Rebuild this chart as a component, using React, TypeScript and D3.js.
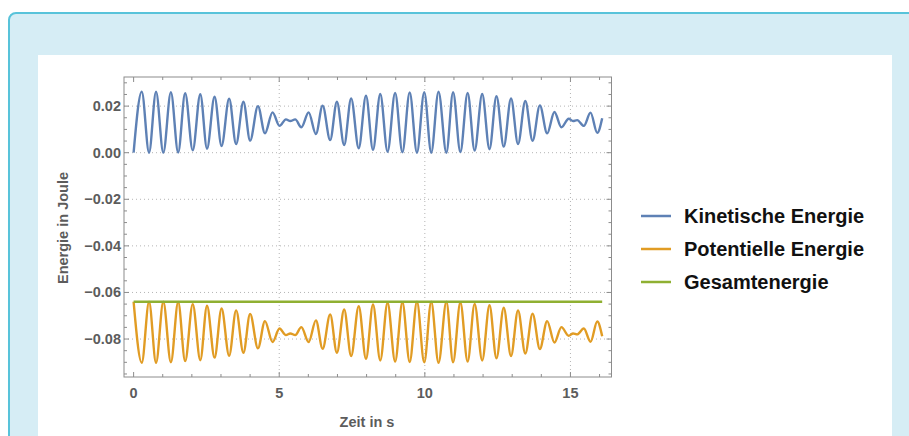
import * as d3 from "d3";

// extrema of the curves (time in s)
const times = [
  0.0, 0.28, 0.53, 0.77, 1.02, 1.28, 1.53, 1.77, 2.03, 2.29, 2.52, 2.78, 3.02, 3.28, 3.52, 3.77,
  4.0, 4.27, 4.51, 4.77, 5.01, 5.23, 5.38, 5.55, 5.76, 6.01, 6.26, 6.49, 6.75, 6.98, 7.23, 7.47,
  7.73, 7.98, 8.22, 8.47, 8.72, 8.98, 9.23, 9.48, 9.73, 9.98, 10.22, 10.47, 10.74, 10.97, 11.22,
  11.47, 11.71, 11.97, 12.22, 12.46, 12.71, 12.96, 13.2, 13.45, 13.7, 13.95, 14.2, 14.45, 14.69,
  14.94, 15.09, 15.23, 15.46, 15.69, 15.92, 16.09,
];

const kinetic = [
  0.0, 0.0262, 0.0, 0.0262, 0.0, 0.026, 0.0001, 0.0255, 0.001, 0.0251, 0.0017, 0.024, 0.0029,
  0.0232, 0.0037, 0.0219, 0.0052, 0.02, 0.0083, 0.0173, 0.0115, 0.0143, 0.0136, 0.0143, 0.0109,
  0.0173, 0.008, 0.0202, 0.0054, 0.0219, 0.0033, 0.0233, 0.0019, 0.0245, 0.0012, 0.0252, 0.0004,
  0.0257, 0.0002, 0.0259, 0.0, 0.026, 0.0, 0.0262, 0.0, 0.026, 0.0003, 0.0257, 0.0009, 0.0252,
  0.0015, 0.0243, 0.0026, 0.0233, 0.0037, 0.0222, 0.0051, 0.0203, 0.0083, 0.0175, 0.0109, 0.0146,
  0.0136, 0.014, 0.0115, 0.0172, 0.0085, 0.0148,
];

const potential = [
  -0.064, -0.0902, -0.064, -0.0902, -0.064, -0.09, -0.0641, -0.0895, -0.065, -0.0891, -0.0657,
  -0.088, -0.0669, -0.0872, -0.0677, -0.0859, -0.0692, -0.084, -0.0723, -0.0813, -0.0755,
  -0.0783, -0.0776, -0.0783, -0.0749, -0.0813, -0.072, -0.0842, -0.0694, -0.0859, -0.0673,
  -0.0873, -0.0659, -0.0885, -0.0652, -0.0892, -0.0644, -0.0897, -0.0642, -0.0899, -0.064,
  -0.09, -0.064, -0.0902, -0.064, -0.09, -0.0643, -0.0897, -0.0649, -0.0892, -0.0655, -0.0883,
  -0.0666, -0.0873, -0.0677, -0.0862, -0.0691, -0.0843, -0.0723, -0.0815, -0.0749, -0.0786,
  -0.0776, -0.078, -0.0755, -0.0812, -0.0725, -0.0788,
];

const totalTimes = [0, 16.09];
const total = [-0.064, -0.064];

const xMajor = [0, 5, 10, 15];
const yMajor = [-0.08, -0.06, -0.04, -0.02, 0.0, 0.02];
const yLabels = ["\u22120.08", "\u22120.06", "\u22120.04", "\u22120.02", "0.00", "0.02"];

const legendNames = ["Kinetische Energie", "Potentielle Energie", "Gesamtenergie"];
const colors = ["#5e81b5", "#e19c24", "#8fb032"];

export default function App() {
  const left = 124,
    right = 611.5,
    top = 77,
    bottom = 377;
  const x = d3.scaleLinear().domain([-0.33, 16.41]).range([left, right]);
  const y = d3.scaleLinear().domain([-0.0963, 0.0325]).range([bottom, top]);

  const line = d3
    .line<[number, number]>()
    .x((d) => x(d[0]))
    .y((d) => y(d[1]))
    .curve(d3.curveMonotoneX);

  const keData = times.map((t, i) => [t, kinetic[i]] as [number, number]);
  const peData = times.map((t, i) => [t, potential[i]] as [number, number]);
  const totData = totalTimes.map((t, i) => [t, total[i]] as [number, number]);

  const xMinor = d3.range(0, 17).filter((v) => v % 5 !== 0);
  const yMinor = d3.range(-19, 7).map((k) => k * 0.005).filter((v) => Math.abs(Math.round(v * 1000)) % 20 !== 0);

  const tickColor = "#8c8c8c";
  const textColor = "#5c5c5c";
  const font = "'Liberation Sans', Arial, sans-serif";

  return (
    <div style={{ position: "absolute", left: 0, top: 0 }}>
      <svg width={909} height={436} style={{ display: "block" }}>
        <rect x={9} y={13} width={920} height={440} rx={7} fill="#d6edf5" stroke="#58c3da" strokeWidth={2} />
        <rect x={38} y={55} width={854} height={400} fill="#ffffff" />

        {/* grid */}
        <g stroke="#b4b4b4" strokeWidth={1} strokeDasharray="1,3">
          {xMajor
            .filter((v) => v !== 0)
            .map((v) => (
              <line key={"gx" + v} x1={x(v)} x2={x(v)} y1={top} y2={bottom} />
            ))}
          {yMajor.map((v) => (
            <line key={"gy" + v} x1={left} x2={right} y1={y(v)} y2={y(v)} />
          ))}
        </g>

        {/* curves */}
        <path d={line(keData) ?? ""} fill="none" stroke={colors[0]} strokeWidth={2.4} />
        <path d={line(peData) ?? ""} fill="none" stroke={colors[1]} strokeWidth={2.4} />
        <path d={line(totData) ?? ""} fill="none" stroke={colors[2]} strokeWidth={2.4} />

        {/* frame */}
        <rect x={left} y={top} width={right - left} height={bottom - top} fill="none" stroke={tickColor} strokeWidth={1} />
        <g stroke={tickColor} strokeWidth={1}>
          {xMajor.map((v) => (
            <g key={"tx" + v}>
              <line x1={x(v)} x2={x(v)} y1={bottom} y2={bottom - 5} />
              <line x1={x(v)} x2={x(v)} y1={top} y2={top + 5} />
            </g>
          ))}
          {xMinor.map((v) => (
            <g key={"mx" + v}>
              <line x1={x(v)} x2={x(v)} y1={bottom} y2={bottom - 3} />
              <line x1={x(v)} x2={x(v)} y1={top} y2={top + 3} />
            </g>
          ))}
          {yMajor.map((v) => (
            <g key={"ty" + v}>
              <line x1={left} x2={left + 5} y1={y(v)} y2={y(v)} />
              <line x1={right} x2={right - 5} y1={y(v)} y2={y(v)} />
            </g>
          ))}
          {yMinor.map((v) => (
            <g key={"my" + v}>
              <line x1={left} x2={left + 3} y1={y(v)} y2={y(v)} />
              <line x1={right} x2={right - 3} y1={y(v)} y2={y(v)} />
            </g>
          ))}
        </g>

        {/* tick labels */}
        <g fontFamily={font} fontWeight="bold" fontSize={14.5} fill={textColor}>
          {xMajor.map((v) => (
            <text key={"lx" + v} x={x(v)} y={398} textAnchor="middle">
              {String(v)}
            </text>
          ))}
          {yMajor.map((v, i) => (
            <text key={"ly" + v} x={121} y={y(v) + 5} textAnchor="end">
              {yLabels[i]}
            </text>
          ))}
        </g>

        {/* axis labels */}
        <text x={367} y={427} textAnchor="middle" fontFamily={font} fontWeight="bold" fontSize={14.5} fill={textColor}>
          Zeit in s
        </text>
        <text
          transform="translate(68,228) rotate(-90)"
          textAnchor="middle"
          fontFamily={font}
          fontWeight="bold"
          fontSize={14.5}
          fill={textColor}
        >
          Energie in Joule
        </text>

        {/* legend */}
        {legendNames.map((name, i) => (
          <g key={name} transform={`translate(641,${216 + i * 33})`}>
            <line x1={0} x2={30} y1={0} y2={0} stroke={colors[i]} strokeWidth={2.5} />
            <text x={43} y={7} fontFamily={font} fontWeight="bold" fontSize={20} fill="#111">
              {name}
            </text>
          </g>
        ))}
      </svg>
    </div>
  );
}
